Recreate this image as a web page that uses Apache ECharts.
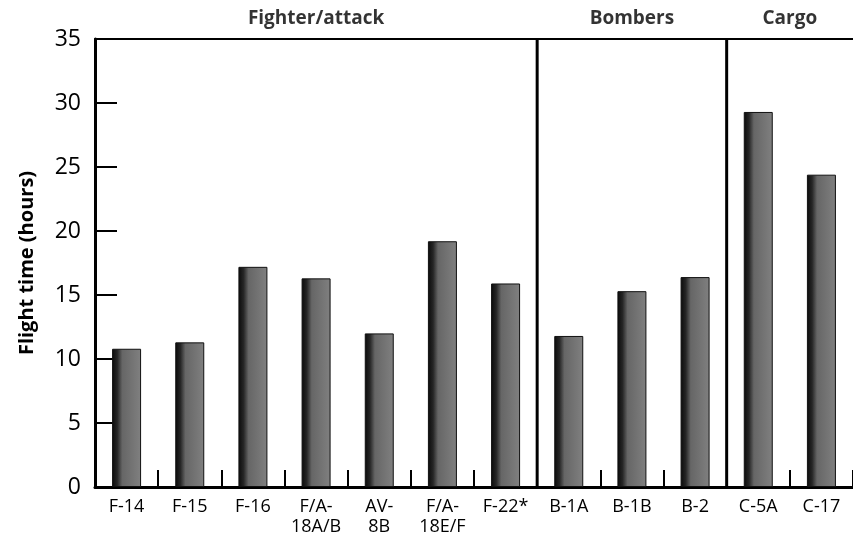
<!DOCTYPE html>
<html>
<head>
<meta charset="utf-8">
<script src="https://cdn.jsdelivr.net/npm/echarts@6/dist/echarts.min.js"></script>
<style>
html,body{margin:0;padding:0;background:#fff;}
#chart{width:853px;height:537px;}
</style>
</head>
<body>
<div id="chart"></div>
<script>
var categories = ['F-14','F-15','F-16','F/A-\n18A/B','AV-\n8B','F/A-\n18E/F','F-22*','B-1A','B-1B','B-2','C-5A','C-17'];
var flightHours = [10.8, 11.3, 17.2, 16.3, 12.0, 19.2, 15.9, 11.8, 15.3, 16.4, 29.3, 24.4];
var yTicks = [0, 5, 10, 15, 20, 25, 30, 35];
var groupNames = ['Fighter/attack', 'Bombers', 'Cargo'];
var groupStart = [0, 7, 10];
var groupEnd = [7, 10, 12];
var groupBoundaries = [7, 10];

var chart = echarts.init(document.getElementById('chart'));
var font = '"Open Sans", "DejaVu Sans", sans-serif';

var groupLabelData = groupNames.map(function (n, i) {
  return { value: [(groupStart[i] + groupEnd[i]) / 2, yTicks[yTicks.length - 1]], name: n };
});

var separatorSeries = groupBoundaries.map(function (b) {
  return {
    type: 'line', xAxisIndex: 1, yAxisIndex: 0, symbol: 'none', silent: true, z: 5,
    lineStyle: { color: '#000', width: 3 },
    data: [[b, yTicks[0]], [b, yTicks[yTicks.length - 1]]]
  };
});

var option = {
  backgroundColor: '#fff',
  animation: false,
  grid: { left: 95, top: 39, width: 762, bottom: 49 },
  xAxis: [{
    type: 'category',
    data: categories,
    boundaryGap: true,
    axisLine: { lineStyle: { color: '#000', width: 3 } },
    axisTick: { show: false },
    axisLabel: { color: '#000', fontSize: 18, lineHeight: 20, fontFamily: font, margin: 10, interval: 0 },
    splitLine: { show: false }
  }, {
    type: 'value', min: 0, max: categories.length, position: 'top',
    axisLine: { show: true, onZero: false, lineStyle: { color: '#000', width: 2 } },
    axisTick: { show: false }, axisLabel: { show: false }, splitLine: { show: false }
  }, {
    type: 'value', min: 0, max: categories.length, interval: 1, position: 'bottom',
    axisLine: { show: false, onZero: false },
    axisTick: { show: true, inside: true, length: 17, lineStyle: { color: '#000', width: 2 } },
    axisLabel: { show: false }, splitLine: { show: false }
  }],
  yAxis: {
    type: 'value', min: 0, max: 35, interval: 5,
    name: 'Flight time (hours)', nameLocation: 'middle', nameGap: 58, nameRotate: 90,
    nameTextStyle: { fontSize: 20, fontWeight: 'bold', color: '#000', fontFamily: font },
    axisLine: { show: true, lineStyle: { color: '#000', width: 3 } },
    axisTick: { show: true, inside: true, length: 22, lineStyle: { color: '#000', width: 2 } },
    axisLabel: { color: '#000', fontSize: 23, fontFamily: font, margin: 14 },
    splitLine: { show: false }
  },
  series: [{
    type: 'bar',
    data: flightHours,
    barWidth: 29,
    itemStyle: {
      color: new echarts.graphic.LinearGradient(0, 0, 1, 0, [
        { offset: 0, color: '#0a0a0a' },
        { offset: 0.18, color: '#262626' },
        { offset: 0.35, color: '#666' },
        { offset: 1, color: '#808080' }
      ]),
      borderColor: '#111', borderWidth: 1
    }
  }, {
    type: 'scatter', xAxisIndex: 1, yAxisIndex: 0, symbolSize: 0, silent: true,
    data: groupLabelData,
    label: {
      show: true, position: 'top', distance: 11,
      formatter: function (p) { return p.name; },
      fontSize: 19, fontWeight: 'bold', color: '#000', fontFamily: font
    }
  }].concat(separatorSeries)
};
chart.setOption(option);
</script>
</body>
</html>
